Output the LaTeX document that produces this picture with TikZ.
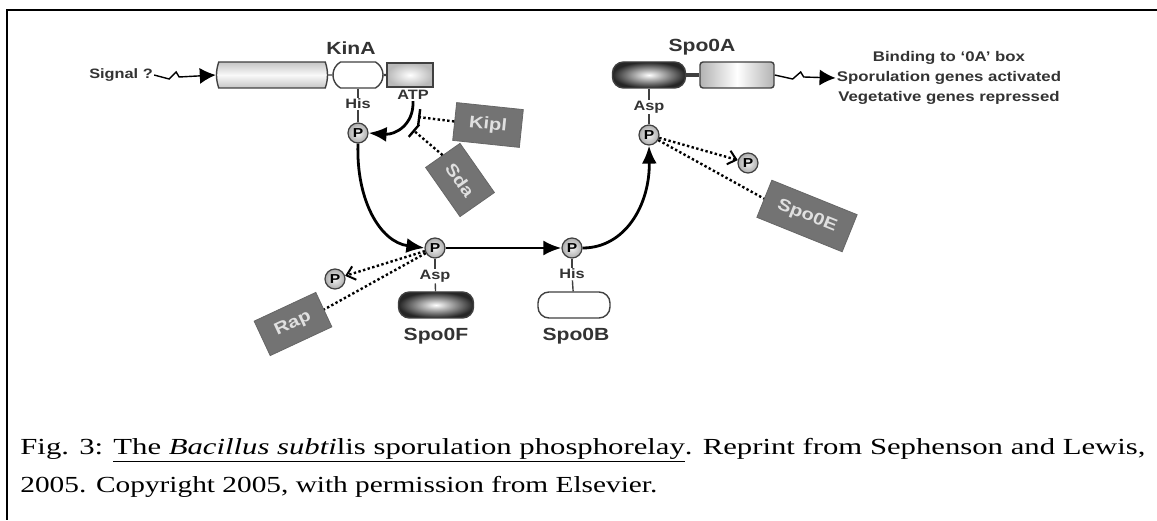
\documentclass[tikz,border=0pt]{standalone}
\usepackage{graphicx}
\usepackage{fontspec}
\setmainfont{Liberation Serif}
\setsansfont{Liberation Sans}[FakeStretch=1.2]
\usetikzlibrary{positioning,arrows.meta,shapes.misc}

\begin{document}
\begin{tikzpicture}[
    x=0.5pt, y=0.5pt,
    dombox/.style={
        draw=black!75,
        line width=0.7pt,
        minimum height=13pt,
        inner sep=0pt
    },
    pill/.style={
        dombox,
        rounded corners=5.5pt
    },
    phos/.style={
        circle,
        draw=black!75,
        line width=0.6pt,
        inner color=gray!10,
        outer color=gray!65,
        minimum size=10pt,
        inner sep=0pt,
        font=\sffamily\bfseries\fontsize{6.5}{6.5}\selectfont
    },
    tag/.style={
        font=\sffamily\bfseries\fontsize{6.8}{7}\selectfont,
        text=black!80,
        inner sep=0.5pt
    },
    protein/.style={
        font=\sffamily\bfseries\fontsize{8.8}{9}\selectfont,
        text=black!80
    },
    regulator/.style={
        draw=black!60,
        fill=black!55,
        text=white!88!black,
        font=\sffamily\bfseries\fontsize{8.4}{9}\selectfont,
        inner sep=0pt
    },
    tether/.style={
        draw=black!75,
        line width=0.7pt
    },
    arrow/.style={
        -{Latex[length=9pt,width=7.5pt]},
        line width=1.4pt
    },
    relay/.style={
        -{Latex[length=8pt,width=8pt]},
        line width=0.7pt
    },
    dotline/.style={
        line width=1.2pt,
        dash pattern=on 1.2pt off 1.2pt
    },
    inhibit/.style={
        dotline,
        -{Bar[width=8pt,line width=1.2pt]}
    },
    removal/.style={
        dotline,
        -{Straight Barb[length=4pt,width=7pt,line width=1pt]}
    },
    capline/.style={
        anchor=base west,
        inner sep=0pt,
        font=\rmfamily\fontsize{11.5}{12}\selectfont
    }
]

\useasboundingbox (0,0) rectangle (1157,520);
% frame
\draw[line width=1.1pt] (1157,510) -- (7,510) -- (7,0);

% KinA
\node[tag] (signal) at (121,445) {Signal ?};
\node[dombox, rounded rectangle, rounded rectangle arc length=40,
      minimum width=55.5pt, top color=gray!45, bottom color=gray!45,
      middle color=gray!5] (kinA1) at (272,445) {};
\node[dombox, rounded rectangle, rounded rectangle arc length=120,
      minimum width=25pt, fill=white] (kinA2) at (358,445) {};
\node[dombox, minimum width=23pt, minimum height=12pt,
      inner color=white, outer color=gray!55] (kinA3) at (410,445) {};
\node[protein] (kinAname) at (351,472) {KinA};
\draw[tether] (kinA1) -- (kinA2);
\draw[tether, line width=1.2pt] (kinA2) -- (kinA3);
\draw[relay] (signal.east) -- ++(15,-4) -- ++(7,7) -- ++(3,-5) -- (kinA1.west);

\node[tag] (hisK) at (358,416) {His};
\node[tag] (atp) at (413,425) {ATP};
\node[phos] (pK) at (358,387) {P};
\draw[tether] (kinA2) -- (hisK);
\draw[tether] (hisK) -- (pK);
\draw[arrow] (atp.south) .. controls (414,395) and (395,385) .. (pK.east);

% KipI and Sda
\node[regulator, minimum width=33.5pt, minimum height=19pt, rotate=-6] (kipl) at (488,395) {Kipl};
\node[regulator, minimum width=30pt, minimum height=21pt, rotate=-55] (sda) at (460,340) {Sda};
\coordinate (kiplbar) at (418,403);
\coordinate (sdabar) at (413,390);
\draw[inhibit] (kipl.west) -- (kiplbar);
\draw[inhibit] (sda.west) -- (sdabar);

% Spo0F
\node[phos] (p0F) at (435,272) {P};
\node[tag] (asp0F) at (435,244) {Asp};
\node[pill, minimum width=37.5pt, inner color=white, outer color=black!85] (spo0F) at (436,215) {};
\node[protein] (spo0Fname) at (436,184) {Spo0F};
\draw[tether] (p0F) -- (asp0F);
\draw[tether] (asp0F) -- (spo0F);
\draw[arrow] (pK.south) .. controls (356,320) and (380,278) .. (p0F.west);

% Rap
\node[regulator, minimum width=34pt, minimum height=19pt, rotate=25] (rap) at (293,196) {Rap};
\node[phos] (p0Foff) at (335,241) {P};
\draw[removal] (p0F) -- (p0Foff);
\draw[dotline] (p0F) -- (rap.east);

% Spo0B
\node[phos] (p0B) at (572,272) {P};
\node[tag] (his0B) at (572,246) {His};
\node[pill, minimum width=36pt, fill=white] (spo0B) at (574,215) {};
\node[protein] (spo0Bname) at (576,184) {Spo0B};
\draw[tether] (p0B) -- (his0B);
\draw[tether] (his0B) -- (spo0B);
\draw[arrow] (p0F) -- (p0B);

% Spo0A
\node[pill, minimum width=36.5pt, inner color=white, outer color=black!85] (spo0A1) at (649,445) {};
\node[dombox, minimum width=37pt, left color=gray!60, right color=gray!60,
      middle color=white, rounded corners=1.5pt] (spo0A2) at (737,445) {};
\draw[tether, line width=1.6pt] (spo0A1) -- (spo0A2);
\node[protein] (spo0Aname) at (702,473) {Spo0A};
\node[tag] (asp0A) at (649,413) {Asp};
\node[phos] (p0A) at (649,385) {P};
\draw[tether] (spo0A1) -- (asp0A);
\draw[tether] (asp0A) -- (p0A);
\draw[arrow] (p0B.east) .. controls (625,272) and (650,315) .. (p0A.south);

\node[font=\sffamily\bfseries\fontsize{7}{10}\selectfont, text=black!80,
      align=center, inner sep=0.5pt] (outcome) at (949,442)
{Binding to ‘0A’ box\\Sporulation genes activated\\Vegetative genes repressed};
\draw[relay] (spo0A2.east) -- ++(18,-4) -- ++(8,7) -- ++(3,-5) -- (outcome.west);

% Spo0E
\node[regulator, minimum width=46pt, minimum height=20pt, rotate=-22] (spo0E) at (807,304) {Spo0E};
\node[phos] (p0Aoff) at (748,357) {P};
\draw[removal] (p0A) -- (p0Aoff);
\draw[dotline] (p0A) -- (spo0E.west);

% caption
\node[capline] (caption1) at (20,66)
{\resizebox{562.5pt}{\height}{Fig. 3: \underline{The \textit{Bacillus subti}lis sporulation phosphorelay}. Reprint from Sephenson and Lewis,}};
\node[capline] (caption2) at (20,28)
{\resizebox{318.5pt}{\height}{2005. Copyright 2005, with permission from Elsevier.}};

\end{tikzpicture}
\end{document}
